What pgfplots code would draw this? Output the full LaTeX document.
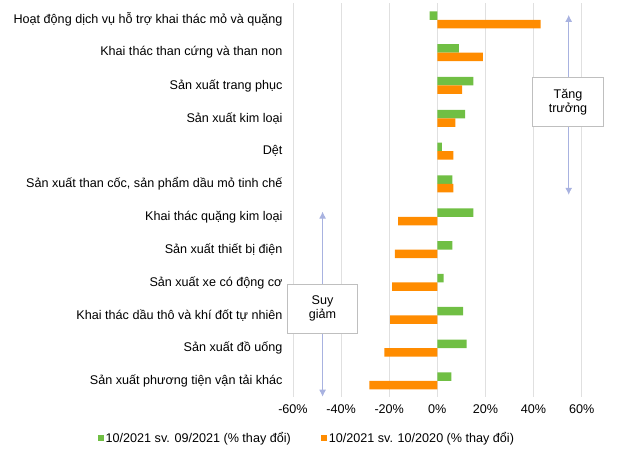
\documentclass[border=0pt]{standalone}
\usepackage{pgfplots}
\pgfplotsset{compat=1.18}
\usepackage{fontspec}
\setmainfont{Liberation Sans}
\usetikzlibrary{arrows.meta}
\definecolor{cgreen}{HTML}{70BF44}
\definecolor{corange}{HTML}{FF8C00}
\definecolor{carrow}{HTML}{A8B2E0}
\begin{document}
\begin{tikzpicture}[font=\fontsize{12.6}{14}\selectfont]
\begin{axis}[
  name=ax,
  scale only axis, width=288.7pt, height=394pt,
  clip=false,
  xmin=-60, xmax=60, ymin=-0.5, ymax=11.5, y dir=reverse,
  xtick={-60,-40,-20,0,20,40,60},
  xticklabels={-60\%,-40\%,-20\%,0\%,20\%,40\%,60\%},
  ytick={0,...,11},
  yticklabels={Hoạt động dịch vụ hỗ trợ khai thác mỏ và quặng,
    Khai thác than cứng và than non,
    Sản xuất trang phục,
    Sản xuất kim loại,
    Dệt,
    {Sản xuất than cốc, sản phẩm dầu mỏ tinh chế},
    Khai thác quặng kim loại,
    Sản xuất thiết bị điện,
    Sản xuất xe có động cơ,
    Khai thác dầu thô và khí đốt tự nhiên,
    Sản xuất đồ uống,
    Sản xuất phương tiện vận tải khác},
  major tick length=0pt,
  axis line style={draw=none},
  xmajorgrids, grid style={draw=black!12, line width=0.8pt},
  xbar, bar width=8.5pt,
  yticklabel style={xshift=-7pt},
  xticklabel style={yshift=-4pt},
  legend style={at={(0.048,-0.078)}, anchor=north, draw=none, legend columns=2,
    /tikz/every even column/.append style={column sep=28pt}},
  legend image code/.code={\fill[#1] (0pt,-3pt) rectangle (6pt,3pt);},
]
\addplot[fill=cgreen, draw=none, bar shift=4.25pt] coordinates {
  (-3.2,0) (9.0,1) (15.0,2) (11.5,3) (1.9,4) (6.2,5)
  (15.0,6) (6.2,7) (2.6,8) (10.7,9) (12.2,10) (5.8,11)};
\addplot[fill=corange, draw=none, bar shift=-4.25pt] coordinates {
  (42.9,0) (18.9,1) (10.3,2) (7.5,3) (6.7,4) (6.7,5)
  (-16.3,6) (-17.7,7) (-18.75,8) (-19.6,9) (-22.0,10) (-28.3,11)};
\legend{10/2021 sv. 09/2021 (\% thay đổi), 10/2021 sv. 10/2020 (\% thay đổi)}
\draw[carrow, line width=1pt, {Latex[length=7pt,width=7pt]}-{Latex[length=7pt,width=7pt]}]
  (axis cs:54.6,-0.15) -- (axis cs:54.6,5.33);
\node[draw=black!25, fill=white, align=center, minimum width=70.6pt, minimum height=49pt, line width=0.8pt]
  at (axis cs:54.3,2.5) {Tăng\\trưởng};
\draw[carrow, line width=1pt, {Latex[length=7pt,width=7pt]}-{Latex[length=7pt,width=7pt]}]
  (axis cs:-47.7,5.84) -- (axis cs:-47.7,11.48);
\node[draw=black!25, fill=white, align=center, minimum width=70.6pt, minimum height=49pt, line width=0.8pt]
  at (axis cs:-47.7,8.8) {Suy\\giảm};
\end{axis}
\path (ax.south west) ++(-293pt,-56.6pt) rectangle ++(630pt,454pt);
\end{tikzpicture}
\end{document}
